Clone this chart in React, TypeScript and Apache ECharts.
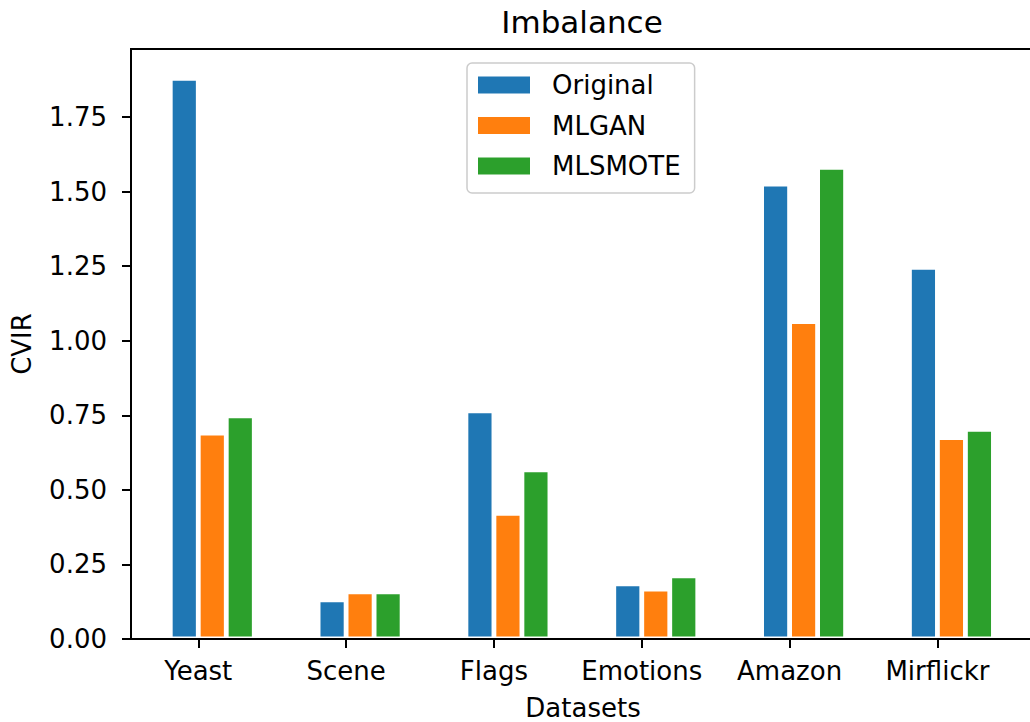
import React, { useEffect, useRef } from "react";
import * as echarts from "echarts";

// Datasets on the x axis
const datasets = ["Yeast", "Scene", "Flags", "Emotions", "Amazon", "Mirflickr"];

// CVIR per dataset for each sampling method
const original = [1.88, 0.131, 0.765, 0.185, 1.525, 1.246];
const mlgan = [0.69, 0.158, 0.421, 0.167, 1.064, 0.675];
const mlsmote = [0.748, 0.158, 0.567, 0.212, 1.581, 0.703];

const seriesNames = ["Original", "MLGAN", "MLSMOTE"];
const seriesColors = ["#1f77b4", "#ff7f0e", "#2ca02c"];

// y tick labels
const yTicks = [0, 0.25, 0.5, 0.75, 1.0, 1.25, 1.5, 1.75];
const xTicks = datasets.map((_, i) => i);

const FONT = "DejaVu Sans";

export default function App() {
  const ref = useRef<HTMLDivElement>(null);

  useEffect(() => {
    if (!ref.current) return;
    const chart = echarts.init(ref.current, undefined, { renderer: "svg" });

    const toPairs = (vals: number[]) => vals.map((v, i) => [i, v]);
    const barSeries = [original, mlgan, mlsmote].map((vals, k) => ({
      name: seriesNames[k],
      type: "bar",
      data: toPairs(vals),
      barWidth: 28,
      barGap: "0%",
      itemStyle: {
        color: seriesColors[k],
        borderColor: "#ffffff",
        borderWidth: 2.4,
      },
    }));

    // empty leading slot so each group sits just right of its tick
    const spacer = {
      name: "_spacer",
      type: "bar",
      data: datasets.map((_, i) => [i, "-"]),
      barWidth: 28,
      barGap: "0%",
      silent: true,
      itemStyle: { color: "transparent" },
    };

    chart.setOption({
      animation: false,
      backgroundColor: "#ffffff",
      textStyle: { fontFamily: FONT },
      grid: {
        left: 131,
        top: 49,
        width: 904,
        height: 590,
        show: true,
        borderColor: "#000000",
        borderWidth: 2,
        backgroundColor: "transparent",
        containLabel: false,
        outerBoundsMode: "none",
      },
      graphic: [
        {
          type: "text",
          x: 582,
          y: 21.5,
          style: {
            text: "Imbalance",
            align: "center",
            verticalAlign: "middle",
            fontSize: 31,
            fontFamily: FONT,
            fill: "#000000",
          },
        },
      ],
      legend: {
        data: seriesNames,
        orient: "vertical",
        left: 467,
        top: 63,
        icon: "rect",
        itemWidth: 54,
        itemHeight: 19,
        itemGap: 14.5,
        padding: [9, 14, 14, 9],
        backgroundColor: "rgba(255,255,255,0.8)",
        borderColor: "#cccccc",
        borderWidth: 1.5,
        borderRadius: 5,
        textStyle: {
          fontFamily: FONT,
          fontSize: 26,
          color: "#000000",
          padding: [0, 0, 0, 16],
        },
        selectedMode: false,
      },
      xAxis: {
        type: "value",
        z: 5,
        min: -0.455,
        max: 5.66,
        name: "Datasets",
        nameLocation: "middle",
        nameGap: 56,
        nameTextStyle: { fontFamily: FONT, fontSize: 26, color: "#000000" },
        axisLine: { show: true, onZero: false, lineStyle: { color: "#000000", width: 2 } },
        axisTick: {
          show: true,
          customValues: xTicks,
          length: 9,
          lineStyle: { color: "#000000", width: 2 },
        },
        axisLabel: {
          customValues: xTicks,
          formatter: (v: number) => datasets[Math.round(v)] ?? "",
          margin: 19,
          fontFamily: FONT,
          fontSize: 26,
          color: "#000000",
        },
        splitLine: { show: false },
      },
      yAxis: {
        type: "value",
        z: 5,
        min: 0,
        max: 1.978,
        name: "CVIR",
        nameLocation: "middle",
        nameGap: 96,
        nameTextStyle: { fontFamily: FONT, fontSize: 26, color: "#000000" },
        axisLine: { show: true, onZero: false, lineStyle: { color: "#000000", width: 2 } },
        axisTick: {
          show: true,
          customValues: yTicks,
          length: 9,
          lineStyle: { color: "#000000", width: 2 },
        },
        axisLabel: {
          customValues: yTicks,
          formatter: (v: number) => v.toFixed(2),
          margin: 24,
          fontFamily: FONT,
          fontSize: 26,
          color: "#000000",
        },
        splitLine: { show: false },
      },
      series: [spacer, ...barSeries],
    });

    return () => chart.dispose();
  }, []);

  return (
    <div
      ref={ref}
      style={{ position: "fixed", left: 0, top: 0, width: 1030, height: 722 }}
    />
  );
}
